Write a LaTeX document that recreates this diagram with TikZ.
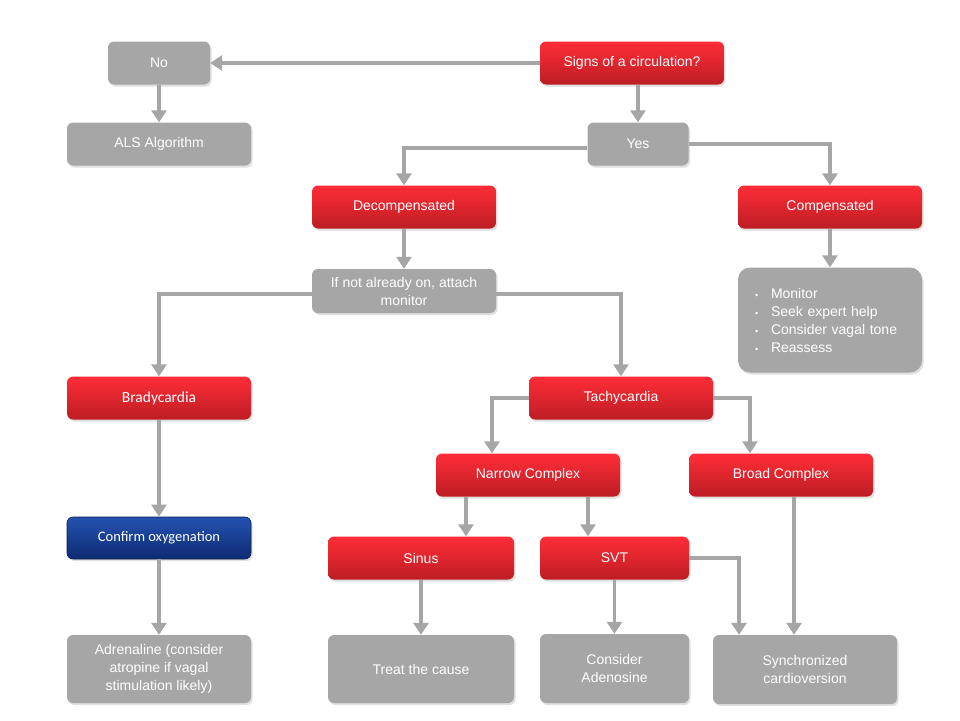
\documentclass[tikz,border=0pt]{standalone}
\usepackage{fontspec}
\setmainfont{Liberation Sans}
\newfontfamily\calibri{Carlito}
\usetikzlibrary{arrows.meta,shadows}
\definecolor{boxgray}{HTML}{A6A6A6}
\definecolor{redtop}{HTML}{FF2D37}
\definecolor{redbot}{HTML}{BD1D24}
\definecolor{bluetop}{HTML}{2452B2}
\definecolor{bluebot}{HTML}{0E2B72}
\newcommand\bul{\makebox[16pt][l]{\small\textbullet}}
\begin{document}
\begin{tikzpicture}[x=1pt, y=-1pt,
	box/.style={rounded corners=6pt, text=white, minimum width=184pt, minimum height=43pt,
		align=center, inner sep=0pt, font=\fontsize{14}{18}\selectfont,
		drop shadow={opacity=0.25, shadow xshift=1.5pt, shadow yshift=-2pt}},
	redbox/.style={box, top color=redtop, bottom color=redbot},
	graybox/.style={box, fill=boxgray},
	bluebox/.style={box, top color=bluetop, bottom color=bluebot, draw=bluebot!70!black, line width=0.6pt},
	link/.style={draw=boxgray, line width=3.8pt, -{Triangle[width=15pt,length=12pt]}}]

\fill[white] (0,0) rectangle (960,720);
\useasboundingbox (0,0) rectangle (960,720);

\node[graybox, minimum width=102pt] (no) at (159,63) {No};
\node[redbox] (signs) at (632,63) {Signs of a circulation?};
\node[graybox] (als) at (159,144) {ALS Algorithm};
\node[graybox, minimum width=101pt] (yes) at (638,144) {Yes};
\node[redbox] (decomp) at (404,207) {Decompensated};
\node[redbox] (comp) at (830,207) {Compensated};
\node[graybox, minimum height=44pt] (attach) at (404,291) {If not already on, attach\\monitor};
\node[graybox, minimum height=105pt, rounded corners=12pt, text width=150pt, align=left] (advice) at (830,320)
	{\bul Monitor\\\bul Seek expert help\\\bul Consider vagal tone\\\bul Reassess};
\node[redbox, font=\calibri\fontsize{15.5}{18}\selectfont] (brady) at (159,398) {Bradycardia};
\node[redbox] (tachy) at (621,398) {Tachycardia};
\node[redbox] (narrow) at (528,475) {Narrow Complex};
\node[redbox] (broad) at (781,475) {Broad Complex};
\node[bluebox, minimum height=42pt, font=\calibri\fontsize{14.5}{18}\selectfont] (oxygen) at (159,538) {Confirm oxygenation};
\node[redbox, minimum width=186pt] (sinus) at (421,558) {Sinus};
\node[redbox, minimum width=149pt] (svt) at (614.5,558) {SVT};
\node[graybox, minimum height=68pt] (adren) at (159,669) {Adrenaline (consider\\atropine if vagal\\stimulation likely)};
\node[graybox, minimum width=186pt, minimum height=68pt] (cause) at (421,669) {Treat the cause};
\node[graybox, minimum width=149pt, minimum height=69pt] (adeno) at (614.5,668.5) {Consider\\Adenosine};
\node[graybox, minimum height=69pt] (sync) at (805,669.5) {Synchronized\\cardioversion};

\draw[link] (signs.west) -- (no.east);
\draw[link] (yes.north |- signs.south) -- (yes.north);
\foreach \a/\b in {no/als, decomp/attach, comp/advice, brady/oxygen, oxygen/adren, sinus/cause, svt/adeno}
	\draw[link] (\a) -- (\b);

\draw[link] ([yshift=-4pt]yes.west) -| (decomp);
\draw[link] (yes) -| (comp);
\draw[link] ([yshift=-3pt]attach.west) -| (brady);
\draw[link] ([yshift=-3pt]attach.east) -| (tachy);
\draw[link] (tachy) -| ([xshift=-36pt]narrow.north);
\draw[link] (tachy) -| ([xshift=-31pt]broad.north);
\draw[link] ([xshift=-62pt]narrow.south) -- ([xshift=-62pt]narrow.south |- sinus.north);
\draw[link] ([xshift=60pt]narrow.south) -- ([xshift=60pt]narrow.south |- svt.north);
\draw[link] ([xshift=13pt]broad.south) -- ([xshift=13pt]broad.south |- sync.north);
\draw[link] (svt) -| ([xshift=-66pt]sync.north);

\end{tikzpicture}
\end{document}
